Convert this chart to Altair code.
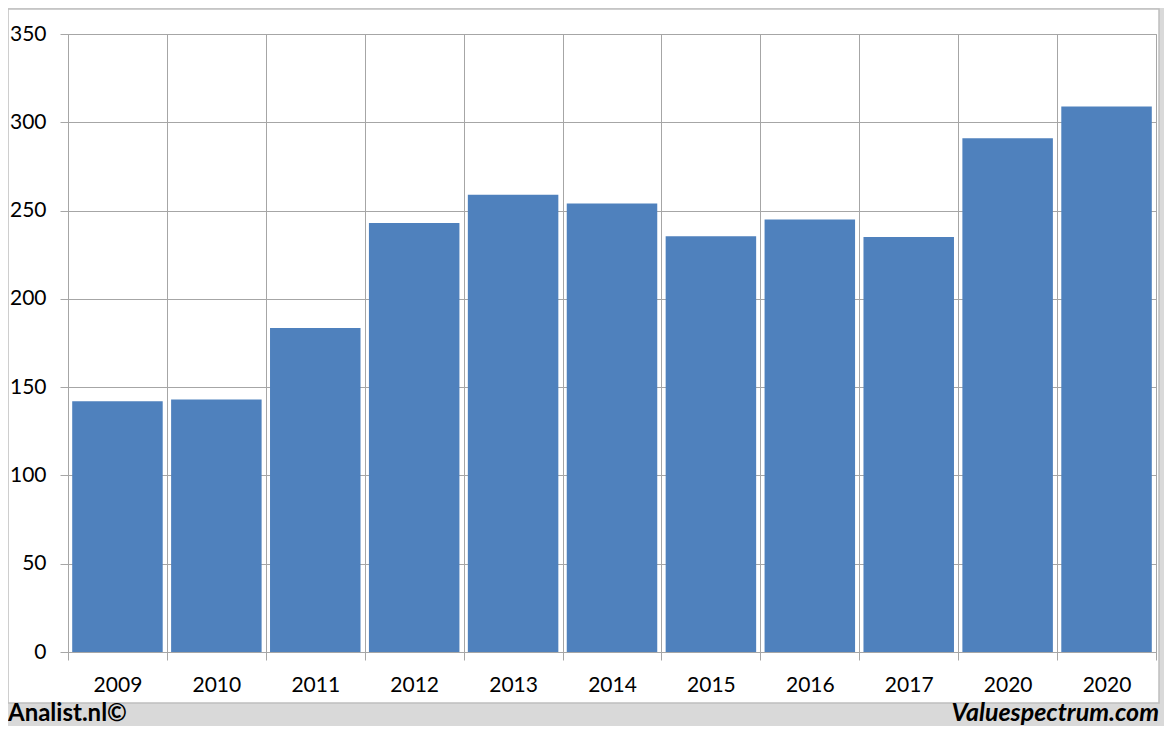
import altair as alt
import pandas as pd

years = ["2009", "2010", "2011", "2012", "2013", "2014", "2015", "2016", "2017", "2020", "2020"]
values = [142, 143, 183.5, 243, 259, 254, 235.5, 245, 235, 291, 309]
y_ticks = [0, 50, 100, 150, 200, 250, 300, 350]

df = pd.DataFrame({"idx": list(range(len(years))), "year": years, "value": values})
label_map = "{" + ",".join(f"'{i}':'{y}'" for i, y in enumerate(years)) + "}"

FONT = "Lato"
GRID = "#a6a6a6"
FRAME = "#d9d9d9"

one = pd.DataFrame({"a": [0]})

footer = alt.Chart(one).mark_rect(color=FRAME).encode(
    x=alt.value(-60), x2=alt.value(1096), y=alt.value(669), y2=alt.value(692)
)
right_strip = alt.Chart(one).mark_rect(color=FRAME).encode(
    x=alt.value(1091), x2=alt.value(1096), y=alt.value(-26), y2=alt.value(692)
)
top_strip = alt.Chart(one).mark_rect(color=FRAME).encode(
    x=alt.value(-60), x2=alt.value(1096), y=alt.value(-26), y2=alt.value(-25)
)
panel_border = alt.Chart(one).mark_rect(
    fillOpacity=0, stroke="#bfbfbf", strokeWidth=1.5
).encode(
    x=alt.value(-60), x2=alt.value(1091), y=alt.value(-25), y2=alt.value(669)
)

bars = alt.Chart(df).mark_bar(color="#4f81bd", width=alt.RelativeBandSize(0.915)).encode(
    x=alt.X(
        "idx:O",
        scale=alt.Scale(paddingInner=0, paddingOuter=0),
        axis=alt.Axis(
            title=None,
            labelExpr=f"{label_map}[datum.value]",
            labelAngle=0,
            tickBand="extent",
            grid=True,
            gridColor=GRID,
            tickColor=GRID,
            domainColor=GRID,
            tickSize=8,
            labelPadding=14,
            labelFont=FONT,
            labelFontSize=21,
            labelColor="black",
        ),
    ),
    y=alt.Y(
        "value:Q",
        scale=alt.Scale(domain=[0, 350], nice=False),
        axis=alt.Axis(
            title=None,
            values=y_ticks,
            grid=True,
            gridColor=GRID,
            tickColor=GRID,
            domainColor=GRID,
            tickSize=8,
            labelPadding=14,
            labelFont=FONT,
            labelFontSize=21,
            labelColor="black",
        ),
    ),
)

left_text = alt.Chart(pd.DataFrame({"t": ["Analist.nl©"]})).mark_text(
    align="left", baseline="alphabetic", font=FONT, fontSize=24, fontWeight="bold", color="black"
).encode(x=alt.value(-60), y=alt.value(687), text="t:N")

right_text = alt.Chart(pd.DataFrame({"t": ["Valuespectrum.com"]})).mark_text(
    align="right", baseline="alphabetic", font=FONT, fontSize=25, fontWeight="bold",
    fontStyle="italic", color="black"
).encode(x=alt.value(1091), y=alt.value(687), text="t:N")

chart = alt.layer(footer, right_strip, top_strip, panel_border, bars, left_text, right_text).properties(
    width=1088,
    height=618,
    background="white",
    padding={"left": 60, "top": 26, "right": 8, "bottom": 74},
    autosize=alt.AutoSizeParams(type="none"),
).configure_view(stroke=GRID, strokeWidth=1)

chart.save("out.html", embed_options={"renderer": "svg", "actions": False})
